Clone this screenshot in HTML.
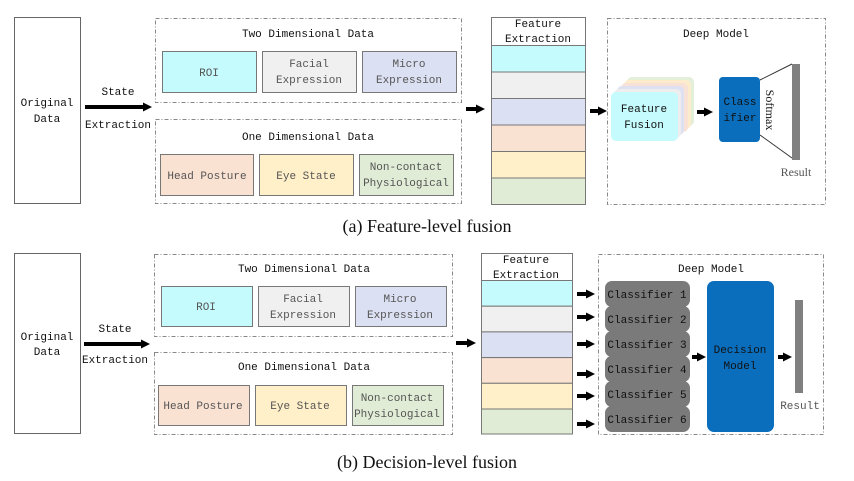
<!DOCTYPE html>
<html><head><meta charset="utf-8"><style>
html,body{margin:0;padding:0;background:#fff;width:854px;height:481px;overflow:hidden}
text{font-family:"Liberation Mono",monospace;font-size:11px;fill:#111}
.g{fill:#555}
.cap{font-family:"Liberation Serif",serif;font-size:18px;fill:#111}
</style></head><body>
<svg width="854" height="481" viewBox="0 0 854 481" xmlns="http://www.w3.org/2000/svg">
<defs>
<marker id="ah" markerWidth="9" markerHeight="9" refX="1" refY="4.5" orient="auto" markerUnits="userSpaceOnUse"><path d="M0,0 L9,4.5 L0,9 z" fill="#000"/></marker>
</defs>
<g stroke="#666" fill="none">
<rect x="14.5" y="17.5" width="66" height="186"/>
<rect x="155.5" y="18.5" width="306" height="84" stroke-dasharray="4,2,1,2" stroke="#888"/>
<rect x="155.5" y="119.5" width="306" height="84" stroke-dasharray="4,2,1,2" stroke="#888"/>
<rect x="607.5" y="18.5" width="218" height="186" stroke-dasharray="4,2,1,2" stroke="#888"/>
<rect x="14.5" y="253.5" width="66" height="180"/>
<rect x="154.5" y="254.5" width="298" height="82" stroke-dasharray="4,2,1,2" stroke="#888"/>
<rect x="154.5" y="352.5" width="298" height="82" stroke-dasharray="4,2,1,2" stroke="#888"/>
<rect x="598.5" y="254.5" width="225" height="180" stroke-dasharray="4,2,1,2" stroke="#888"/>
</g>
<g stroke="#777">
<rect x="162.5" y="51.5" width="94" height="41" fill="#c6fbfd"/>
<rect x="262.5" y="51.5" width="94" height="41" fill="#f0f0f0"/>
<rect x="362.5" y="51.5" width="94" height="41" fill="#dbe0f2"/>
<rect x="160.5" y="154.5" width="93" height="41" fill="#fae2d3"/>
<rect x="259.5" y="154.5" width="94" height="41" fill="#fff0c9"/>
<rect x="359.5" y="154.5" width="94" height="41" fill="#e0ecd6"/>
<rect x="161.5" y="286.5" width="91" height="40" fill="#c6fbfd"/>
<rect x="258.5" y="286.5" width="91" height="40" fill="#f0f0f0"/>
<rect x="355.5" y="286.5" width="91" height="40" fill="#dbe0f2"/>
<rect x="158.5" y="385.5" width="91" height="40" fill="#fae2d3"/>
<rect x="255.5" y="385.5" width="91" height="40" fill="#fff0c9"/>
<rect x="352.5" y="385.5" width="91" height="40" fill="#e0ecd6"/>
<rect x="491.5" y="17.5" width="94" height="28" fill="#fff"/>
<rect x="491.5" y="45.5" width="94" height="26.5" fill="#c6fbfd"/>
<rect x="491.5" y="72" width="94" height="26.5" fill="#f0f0f0"/>
<rect x="491.5" y="98.5" width="94" height="26.5" fill="#dbe0f2"/>
<rect x="491.5" y="125" width="94" height="26.5" fill="#fae2d3"/>
<rect x="491.5" y="151.5" width="94" height="26.5" fill="#fff0c9"/>
<rect x="491.5" y="178" width="94" height="26.5" fill="#e0ecd6"/>
<rect x="481.5" y="253.5" width="91" height="27" fill="#fff"/>
<rect x="481.5" y="280.5" width="91" height="25.7" fill="#c6fbfd"/>
<rect x="481.5" y="306.2" width="91" height="25.7" fill="#f0f0f0"/>
<rect x="481.5" y="331.9" width="91" height="25.7" fill="#dbe0f2"/>
<rect x="481.5" y="357.6" width="91" height="25.7" fill="#fae2d3"/>
<rect x="481.5" y="383.3" width="91" height="25.7" fill="#fff0c9"/>
<rect x="481.5" y="409" width="91" height="25" fill="#e0ecd6"/>
</g>
<g stroke="#000" stroke-width="4" marker-end="url(#ah)">
<line x1="85" y1="107" x2="144" y2="107"/>
<line x1="466" y1="109" x2="477" y2="109"/>
<line x1="590" y1="111" x2="599" y2="111"/>
<line x1="697" y1="112" x2="705" y2="112"/>
<line x1="84" y1="344" x2="142" y2="344"/>
<line x1="456" y1="343" x2="468" y2="343"/>
<line x1="577" y1="294" x2="587" y2="294"/>
<line x1="577" y1="317" x2="587" y2="317"/>
<line x1="577" y1="344" x2="587" y2="344"/>
<line x1="577" y1="374" x2="587" y2="374"/>
<line x1="577" y1="396" x2="587" y2="396"/>
<line x1="577" y1="424" x2="587" y2="424"/>
<line x1="692" y1="357" x2="698" y2="357"/>
<line x1="778" y1="357" x2="784" y2="357"/>
</g>
<rect x="627" y="77" width="67" height="49" rx="5" fill="#e3efd9"/>
<rect x="624" y="80" width="67" height="49" rx="5" fill="#fdeccc"/>
<rect x="621" y="83" width="67" height="49" rx="5" fill="#f8e1d6"/>
<rect x="617" y="86" width="67" height="49" rx="5" fill="#dde1f2"/>
<rect x="614" y="89" width="67" height="49" rx="5" fill="#eeeeee"/>
<rect x="611" y="92" width="67" height="49" rx="5" fill="#c6fbfd"/>
<rect x="719" y="77" width="41" height="65" rx="4" fill="#0a6ebd"/>
<line x1="760" y1="80" x2="792" y2="64" stroke="#333"/>
<line x1="760" y1="135" x2="792" y2="158" stroke="#333"/>
<rect x="792" y="64" width="8" height="96" fill="#808080"/>
<g fill="#7a7a7a">
<rect x="605" y="281" width="85" height="26" rx="7"/>
<rect x="605" y="306" width="85" height="26" rx="7"/>
<rect x="605" y="331" width="85" height="26" rx="7"/>
<rect x="605" y="356" width="85" height="26" rx="7"/>
<rect x="605" y="381" width="85" height="26" rx="7"/>
<rect x="605" y="406" width="85" height="26" rx="7"/>
</g>
<rect x="707" y="281" width="67" height="151" rx="7" fill="#0a6ebd"/>
<rect x="795" y="300" width="8" height="93" fill="#808080"/>
<g text-anchor="middle">
<text x="47" y="106">Original</text><text x="47" y="122">Data</text>
<text x="118" y="95">State</text><text x="118" y="128">Extraction</text>
<text x="308" y="37">Two Dimensional Data</text>
<text x="308" y="140">One Dimensional Data</text>
<text class="g" x="209" y="76">ROI</text>
<text class="g" x="309" y="67">Facial</text><text class="g" x="309" y="83">Expression</text>
<text class="g" x="409" y="67">Micro</text><text class="g" x="409" y="83">Expression</text>
<text class="g" x="207" y="179">Head Posture</text>
<text class="g" x="306" y="179">Eye State</text>
<text class="g" x="406" y="170">Non-contact</text><text class="g" x="406" y="186">Physiological</text>
<text x="538" y="27">Feature</text><text x="538" y="42">Extraction</text>
<text x="716" y="37">Deep Model</text>
<text x="644" y="112" font-size="12">Feature</text><text x="644" y="128" font-size="12">Fusion</text>
<text x="740" y="105" font-size="12">Class</text><text x="740" y="121" font-size="12">ifier</text>
<text x="0" y="0" transform="translate(766,110) rotate(90)" style="font-family:'Liberation Serif',serif;font-size:12px">Softmax</text>
<text class="g" x="796" y="176" style="font-family:'Liberation Serif',serif;font-size:12px">Result</text>
<text x="47" y="340">Original</text><text x="47" y="355">Data</text>
<text x="115" y="332">State</text><text x="115" y="363">Extraction</text>
<text x="304" y="272">Two Dimensional Data</text>
<text x="304" y="370">One Dimensional Data</text>
<text class="g" x="206" y="310">ROI</text>
<text class="g" x="303" y="302">Facial</text><text class="g" x="303" y="318">Expression</text>
<text class="g" x="400" y="302">Micro</text><text class="g" x="400" y="318">Expression</text>
<text class="g" x="203" y="409">Head Posture</text>
<text class="g" x="300" y="409">Eye State</text>
<text class="g" x="397" y="401">Non-contact</text><text class="g" x="397" y="417">Physiological</text>
<text x="526" y="263">Feature</text><text x="526" y="278">Extraction</text>
<text x="711" y="272">Deep Model</text>
<text x="647" y="298" font-size="12">Classifier 1</text>
<text x="647" y="323" font-size="12">Classifier 2</text>
<text x="647" y="348" font-size="12">Classifier 3</text>
<text x="647" y="373" font-size="12">Classifier 4</text>
<text x="647" y="398" font-size="12">Classifier 5</text>
<text x="647" y="423" font-size="12">Classifier 6</text>
<text x="740" y="353" font-size="12">Decision</text><text x="740" y="369" font-size="12">Model</text>
<text class="g" x="800" y="409">Result</text>
<text class="cap" x="427" y="232">(a) Feature-level fusion</text>
<text class="cap" x="427" y="468">(b) Decision-level fusion</text>
</g>
</svg>
</body></html>
